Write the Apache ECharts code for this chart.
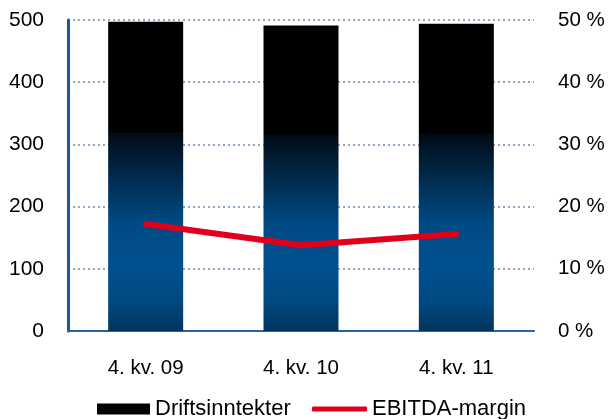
<!DOCTYPE html>
<html><head><meta charset="utf-8">
<script src="https://cdn.jsdelivr.net/npm/echarts@6/dist/echarts.min.js"></script>
<style>html,body{margin:0;padding:0;background:#fff}#c{width:608px;height:419px}</style>
</head><body><div id="c"></div>
<script>
const categories = ['4. kv. 09', '4. kv. 10', '4. kv. 11'];
const revenue = [497, 491, 494];
const ebitdaMargin = [17.2, 13.8, 15.6];
const leftTicks = [0, 100, 200, 300, 400, 500];
const rightTicks = [0, 10, 20, 30, 40, 50];

const chart = echarts.init(document.getElementById('c'), null, {renderer: 'canvas'});
const font = 'Liberation Sans, Arial, sans-serif';
const barGrad = new echarts.graphic.LinearGradient(0, 0, 0, 1, [
  {offset: 0, color: '#000000'},
  {offset: 0.355, color: '#000000'},
  {offset: 0.36, color: '#020b16'},
  {offset: 0.5, color: '#012a4c'},
  {offset: 0.65, color: '#004a84'},
  {offset: 0.78, color: '#00508f'},
  {offset: 0.9, color: '#004a83'},
  {offset: 1, color: '#00345e'}
]);
chart.setOption({
  animation: false,
  grid: {left: 68, right: 74, top: 20, bottom: 88},
  legend: [
    {data: [{name: 'Driftsinntekter', icon: 'rect', itemStyle: {color: '#000'}}],
     left: 97, top: 398, itemWidth: 53, itemHeight: 11, itemGap: 5, padding: 0,
     textStyle: {fontFamily: font, fontSize: 22, color: '#000'}},
    {data: [{name: 'EBITDA-margin', icon: 'roundRect', itemStyle: {color: '#e0001b', borderWidth: 0}}],
     left: 312, top: 398, itemWidth: 55, itemHeight: 5, itemGap: 5, padding: 0,
     textStyle: {fontFamily: font, fontSize: 22, color: '#000'}}
  ],
  xAxis: {
    type: 'category', data: categories,
    axisLine: {lineStyle: {color: '#2a64a0', width: 2}},
    axisTick: {show: false},
    axisLabel: {fontFamily: font, fontSize: 20.5, color: '#000', margin: 27}
  },
  yAxis: [
    {type: 'value', min: 0, max: 500, interval: 100,
     axisLine: {show: true, lineStyle: {color: '#1a5a9a', width: 3}},
     axisTick: {show: false},
     axisLabel: {fontFamily: font, fontSize: 21, color: '#000', margin: 24,
       formatter: v => leftTicks.includes(v) ? String(v) : ''},
     splitLine: {show: true, lineStyle: {color: '#8ea8c6', width: 2, type: [2, 3]}}},
    {type: 'value', min: 0, max: 50, interval: 10, position: 'right',
     axisLine: {show: false}, axisTick: {show: false},
     axisLabel: {fontFamily: font, fontSize: 20.5, color: '#000', margin: 24, align: 'left',
       formatter: v => rightTicks.includes(v) ? v + ' %' : ''},
     splitLine: {show: false}}
  ],
  series: [
    {name: 'Driftsinntekter', type: 'bar', data: revenue, barWidth: 75,
     itemStyle: {color: barGrad}, z: 2},
    {name: 'EBITDA-margin', type: 'line', yAxisIndex: 1, data: ebitdaMargin,
     symbol: 'none', lineStyle: {color: '#e0001b', width: 6, cap: 'round'},
     itemStyle: {color: '#e0001b'}, z: 5}
  ]
});
</script></body></html>
